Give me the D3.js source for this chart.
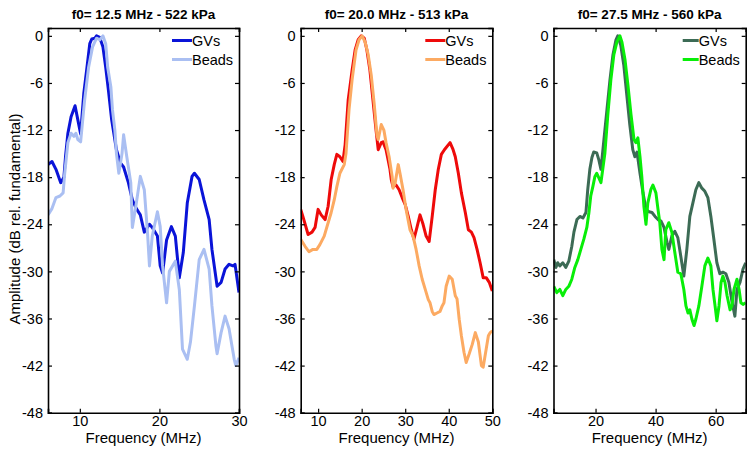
<!DOCTYPE html>
<html><head><meta charset="utf-8">
<script src="https://cdn.jsdelivr.net/npm/d3@7"></script>
<style>body{margin:0;background:#fff}svg{display:block}text{font-family:"Liberation Sans",Arial,sans-serif}</style>
</head><body><svg id="c" width="754" height="453"></svg>
<script>
const titles = ["f0= 12.5 MHz - 522 kPa","f0= 20.0 MHz - 513 kPa","f0= 27.5 MHz - 560 kPa"];
const seriesNames = ["GVs","Beads"];
const xDomains = [[6,30],[6,50],[6,70]];
const xTickVals = [[10,20,30],[10,20,30,40,50],[20,40,60]];
const yTickVals = [0,-6,-12,-18,-24,-30,-36,-42,-48];
const colors = [["#0a14d8","#aabff2"],["#ee0a0a","#fcaa62"],["#3c6b55","#08ee08"]];

const p1GVs = [[6.0,-16.4],[6.5,-16],[7.0,-17],[7.6,-18.7],[8.0,-18],[8.2,-15.4],[8.5,-12.4],[8.9,-10.3],[9.4,-8.9],[9.75,-10.7],[10.1,-12.5],[10.5,-7.3],[10.9,-4],[11.25,-1],[11.5,-0.4],[11.9,-0.3],[12.1,0],[12.5,-0.2],[12.9,-1.4],[13.25,-4],[13.6,-7],[14.0,-10.7],[14.6,-14.5],[15.1,-16.2],[15.5,-16.7],[16.1,-18.7],[16.6,-20.9],[17.1,-22],[17.6,-22.8],[18.1,-25],[18.75,-24],[19.1,-24.4],[19.75,-25.5],[20.1,-29.3],[20.4,-30.2],[20.9,-26],[21.5,-24.3],[22,-25.5],[22.5,-30.8],[23,-27.6],[23.5,-21.3],[24.1,-17.9],[24.4,-17.5],[25,-18.3],[25.6,-20.9],[26.25,-23.4],[26.6,-27.2],[27.25,-31.9],[27.75,-31.4],[28.25,-29.7],[28.75,-29.1],[29.25,-29.3],[29.5,-29.1],[30,-32.7]];
const p1Beads = [[6,-22.8],[6.5,-22],[7,-20.6],[7.5,-20.4],[7.9,-20],[8.1,-17.5],[8.5,-13.6],[8.9,-12.4],[9.25,-12.8],[9.5,-12.4],[9.75,-13.2],[10.1,-13.5],[10.6,-8.2],[11.1,-4],[11.6,-1.4],[12.1,-0.3],[12.5,-0.5],[12.9,0],[13.25,-1],[13.5,-4],[13.9,-6.5],[14.1,-9.4],[14.4,-12],[14.6,-15],[14.9,-17.5],[15.3,-15],[15.5,-12.6],[15.9,-15.4],[16.4,-18.7],[16.6,-24.4],[17.1,-21.3],[17.6,-17.9],[18.1,-19.6],[18.5,-25],[18.75,-29.3],[19.1,-25.5],[19.75,-22.4],[20.1,-24.3],[20.4,-29.3],[20.9,-34],[21.25,-30],[22,-28.7],[22.5,-32.3],[22.9,-39.9],[23.5,-41.2],[23.9,-39],[24.4,-34.4],[25,-28.5],[25.6,-27.2],[26.25,-29.7],[26.6,-34.4],[27.1,-39.5],[27.25,-40.5],[27.75,-37.8],[28.25,-35.7],[28.75,-37.3],[29.4,-41.2],[29.6,-42],[30,-41]];
const p2GVs = [[6,-22.1],[6.5,-23],[7.7,-25.3],[8.6,-25],[9.3,-24.4],[10,-22.1],[10.7,-22.8],[11.6,-23.4],[12.3,-21.7],[13,-18.3],[13.7,-16.4],[14.3,-15.1],[15,-15.4],[15.7,-16],[16.2,-13.9],[16.9,-8.2],[17.8,-4.4],[18.5,-1.8],[19.2,-0.5],[19.9,0],[20.6,-0.3],[21.2,-1.8],[21.9,-4.4],[22.6,-8.2],[23.3,-12],[23.8,-14.5],[24.5,-13.6],[24.9,-13.5],[25.6,-14.5],[26.5,-17],[26.8,-18.3],[27.2,-19.2],[27.9,-19],[28.6,-19.6],[29.3,-20.6],[30,-21.5],[30.7,-23],[31.4,-24.7],[32,-25.9],[32.7,-24.4],[33.4,-22.8],[34.1,-24],[34.8,-25.5],[35.5,-26.2],[36.2,-23],[36.9,-19.6],[37.6,-17],[38.3,-15.1],[39,-14.5],[40.3,-13.6],[41,-14.5],[41.5,-15.4],[42.2,-17.5],[42.9,-20],[43.8,-22.5],[44.5,-24.7],[45.2,-25],[45.8,-25.7],[46.5,-27.2],[47.2,-28.9],[47.9,-30.8],[48.6,-30.8],[49.3,-31.4],[50,-32.5]];
const p2Beads = [[6,-25.9],[7,-26.8],[7.9,-27.5],[8.8,-27.2],[9.7,-27.2],[10.4,-26.6],[11.4,-25.5],[12.3,-23.8],[13,-22.5],[13.7,-20.9],[14.3,-19.2],[15,-17.5],[16,-16.4],[16.4,-15],[17.1,-9.4],[17.8,-5.6],[18.7,-1.8],[19.4,-0.5],[20.1,0],[20.8,-0.8],[21.5,-2.4],[22.2,-5],[22.9,-8.8],[23.5,-12.6],[23.8,-13.2],[24.5,-11.3],[25.1,-12],[25.6,-13.6],[26.3,-15.4],[27,-17.9],[27.2,-19.4],[27.7,-18.7],[28.4,-16.4],[28.8,-17.5],[29.5,-19.6],[30.2,-22.1],[31.1,-24.7],[31.8,-25.5],[32.5,-27.2],[33.2,-29.3],[33.9,-31],[34.6,-32.3],[35.3,-33.6],[35.7,-34],[36.2,-35.1],[36.6,-35.5],[37.3,-35.3],[38,-35.1],[38.5,-34.4],[38.9,-34],[39.4,-31.9],[40.1,-30.6],[40.8,-31],[41.5,-33.1],[41.9,-33.5],[42.4,-36.1],[42.9,-38.2],[43.5,-40.3],[44,-41.6],[44.7,-40.5],[45.4,-39.3],[46.1,-37.8],[46.8,-39],[47.5,-42],[47.9,-42.2],[48.6,-39.9],[49.1,-38.2],[49.5,-37.8],[50,-37.6]];
const p3GVs = [[6.1,-28.5],[6.8,-29.5],[7.4,-28.9],[8.1,-29.3],[9.1,-28.9],[10.1,-29.5],[11.1,-28.7],[12.1,-26.8],[12.8,-25],[13.8,-23.4],[14.8,-23],[15.8,-23.2],[16.8,-22.5],[17.4,-19.6],[18.1,-17],[18.8,-15.5],[19.4,-14.8],[20.4,-14.9],[21.1,-15.8],[21.8,-17],[22.8,-13.2],[23.8,-9.4],[24.8,-5.6],[25.8,-2.4],[26.8,-0.5],[27.4,0],[28.4,-1.2],[29.4,-3.7],[30.4,-7.5],[31.4,-11.3],[32.4,-14.5],[33.1,-15.4],[33.8,-14.8],[34.8,-17.5],[35.8,-20],[36.8,-22.1],[37.8,-22.4],[38.8,-22.5],[39.8,-23],[40.8,-23.4],[41.8,-23.6],[42.8,-24.4],[43.8,-26.3],[44.4,-27.2],[45.4,-25.5],[46.4,-24.9],[47.4,-25.7],[48.4,-28.1],[49.4,-30.6],[50.4,-27.2],[51.4,-23],[52.4,-21.3],[53.4,-19.6],[54.4,-18.7],[55.4,-19.4],[56.4,-19.8],[57.4,-20.6],[58.4,-23],[59.4,-25.9],[60.4,-28.9],[61.4,-30.3],[62.4,-30.1],[63.4,-30.3],[64.4,-31.4],[65.4,-33.8],[66.4,-35.7],[67.1,-32.3],[68.1,-31.4],[69.1,-29.7],[70,-28.9]];
const p3Beads = [[6.1,-31.9],[7.1,-32.7],[8.1,-32.3],[9.1,-33.1],[10.1,-32.3],[11.1,-31.9],[12.1,-31],[13.1,-29.5],[14.1,-28.5],[15.1,-27.2],[16.1,-25.9],[17.1,-24.4],[17.8,-22.5],[18.4,-20.4],[19.1,-19.2],[19.8,-17.9],[20.4,-17.5],[21.1,-18.1],[21.8,-18.7],[22.4,-17],[23.1,-15],[24.1,-10],[25.1,-5.6],[26.1,-2.4],[27.1,-0.8],[28.1,0],[28.8,-0.8],[29.8,-3],[30.8,-6.3],[31.8,-10],[32.8,-13.2],[33.4,-13.6],[34.1,-13],[34.8,-15.4],[35.4,-17.9],[36.1,-21.7],[36.8,-24],[37.4,-21.3],[38.4,-19.6],[39.1,-19],[40.1,-20],[40.8,-22.1],[41.4,-23.8],[42.1,-27.2],[42.8,-28.5],[43.4,-24.7],[44.4,-23.8],[45.4,-25],[46.4,-27.6],[47.4,-30.1],[48.4,-30.3],[49.4,-32.3],[50.1,-34.4],[50.8,-35.3],[51.4,-34.9],[52.1,-36.1],[52.8,-36.9],[53.4,-36.1],[54.4,-34.4],[55.4,-31.9],[56.4,-29.3],[57.4,-28.3],[58.4,-29.3],[59.1,-32.3],[59.8,-34.4],[60.4,-36.3],[61.1,-34.4],[61.8,-31.4],[62.4,-30.6],[63.1,-31.4],[63.8,-33.1],[64.8,-34.9],[65.4,-34.4],[66.1,-32.3],[67.1,-31],[67.8,-32.3],[68.4,-34],[69.1,-34.2],[70,-34]];

const panelData = [[p1GVs,p1Beads],[p2GVs,p2Beads],[p3GVs,p3Beads]];
const xRanges = [[48,239],[300.7,492.3],[553.5,745.7]];
const yDomain = [-48,1];
const plotTop = 28, plotBottom = 412.7;
const FONT = "'Liberation Sans',Arial,sans-serif";
const fmt = d => String(d);

const svg = d3.select("#c");
const y = d3.scaleLinear().domain(yDomain).range([plotBottom, plotTop]);

panelData.forEach((series, i) => {
  const x = d3.scaleLinear().domain(xDomains[i]).range(xRanges[i]);
  const g = svg.append("g");
  const L = xRanges[i][0], R = xRanges[i][1];
  g.append("clipPath").attr("id","clip"+i).append("rect")
    .attr("x",L).attr("y",plotTop).attr("width",R-L).attr("height",plotBottom-plotTop);
  const line = d3.line().x(d=>x(d[0])).y(d=>y(d[1])).curve(d3.curveLinear);
  series.forEach((s, j) => {
    g.append("path").attr("d", line(s)).attr("fill","none")
      .attr("stroke", colors[i][j]).attr("stroke-width", 3)
      .attr("stroke-linejoin","round").attr("clip-path","url(#clip"+i+")");
  });
  const axB = d3.axisBottom(x).tickValues(xTickVals[i]).tickSize(-4).tickPadding(3.5).tickFormat(fmt);
  const axT = d3.axisTop(x).tickValues(xTickVals[i]).tickSize(-4).tickFormat("");
  const axL = d3.axisLeft(y).tickValues(yTickVals).tickSize(-4).tickPadding(5).tickFormat(fmt);
  const axR = d3.axisRight(y).tickValues(yTickVals).tickSize(-4).tickFormat("");
  [[axB,`translate(0,${plotBottom})`],[axT,`translate(0,${plotTop})`],[axL,`translate(${L},0)`],[axR,`translate(${R},0)`]].forEach(([ax,tr])=>{
    const a = g.append("g").attr("transform",tr).call(ax);
    a.select(".domain").attr("stroke","#000").attr("stroke-width",1.6);
    a.selectAll(".tick line").attr("stroke","#000").attr("stroke-width",1.2);
    a.selectAll(".tick text").attr("font-size",14.5).attr("fill","#000").attr("font-family",FONT);
  });
  g.append("text").attr("x",(L+R)/2).attr("y",18.5).attr("text-anchor","middle")
    .attr("font-size",13.5).attr("font-weight","bold").text(titles[i]);
  g.append("text").attr("x",(L+R)/2).attr("y",443).attr("text-anchor","middle")
    .attr("font-size",15).text("Frequency (MHz)");
  const tx = R - 47;
  seriesNames.forEach((n, j) => {
    const ly = 40.5 + j*19;
    g.append("line").attr("x1",tx - (i===2 ? 16 : 20)).attr("x2",tx).attr("y1",ly).attr("y2",ly)
      .attr("stroke",colors[i][j]).attr("stroke-width",3);
    g.append("text").attr("x",tx).attr("y",ly+5).attr("font-size",14.5).text(n);
  });
});

svg.append("text").attr("transform","translate(19.5,219) rotate(-90)").attr("text-anchor","middle")
  .attr("font-size",15).text("Amplitude (dB rel. fundamental)");
</script></body></html>
